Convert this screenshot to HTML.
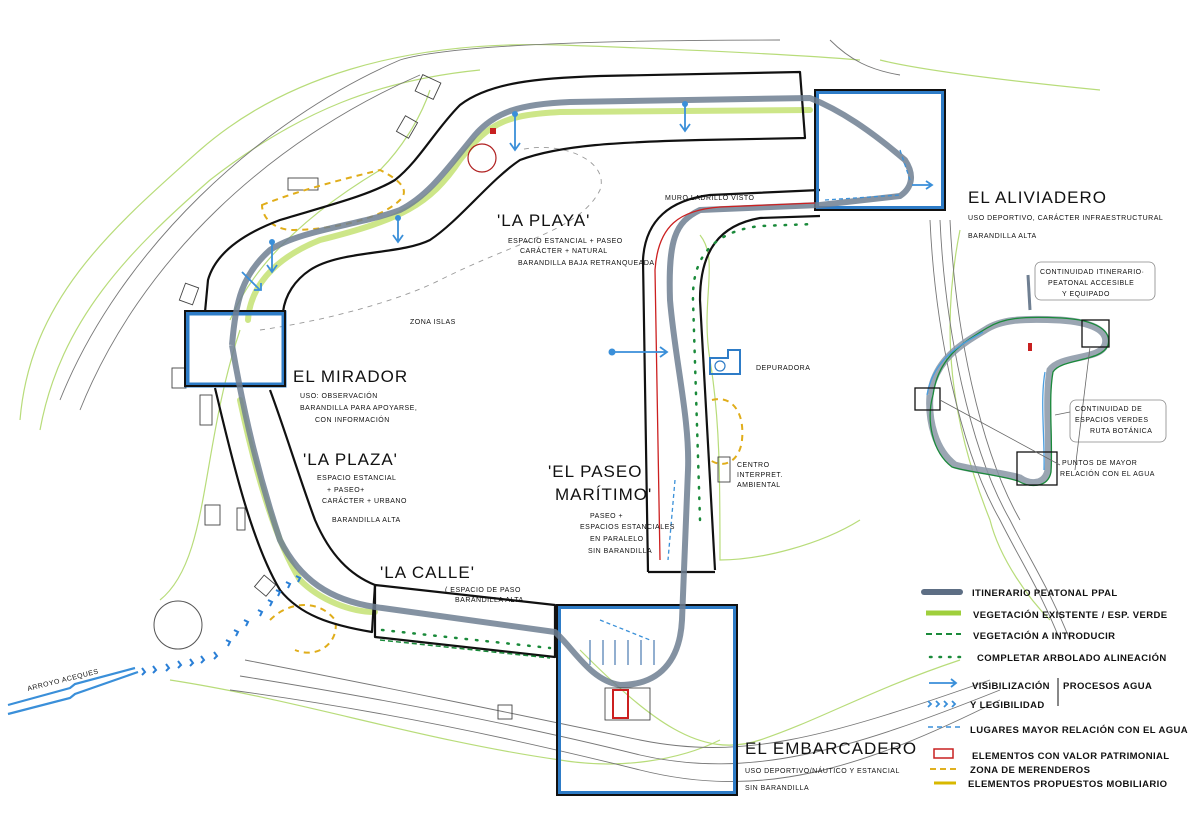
<!DOCTYPE html>
<html><head><meta charset="utf-8"><style>
html,body{margin:0;padding:0;background:#fff;}
svg{display:block;}
text{font-family:"Liberation Sans",sans-serif;fill:#111;}
.s{font-size:7px;letter-spacing:0.5px;}
.b{font-size:17px;letter-spacing:1px;}
.lg{font-size:9.5px;letter-spacing:0.4px;font-weight:bold;}
</style></head><body>
<svg width="1200" height="840" viewBox="0 0 1200 840" xmlns="http://www.w3.org/2000/svg">
<rect width="1200" height="840" fill="#fff"/>
<g fill="none" stroke="#b8dc7a" stroke-width="1.2">
<path d="M20,420 C30,300 110,230 200,150 C280,80 400,40 560,45 C700,50 800,55 860,60"/>
<path d="M40,430 C60,320 130,250 210,180 C300,110 380,80 480,70"/>
<path d="M230,320 C260,250 330,200 380,170 C400,150 420,120 430,90"/>
<path d="M700,235 C720,260 700,300 710,360 C720,420 720,480 720,560 C760,560 820,545 860,520"/>
<path d="M580,650 C650,720 700,760 760,740 C820,720 870,690 960,660"/>
<path d="M170,680 C300,700 420,740 560,760 C620,770 680,760 720,740"/>
<path d="M960,230 C940,330 950,420 990,520 C1000,560 1030,600 1050,620"/>
<path d="M240,330 C200,450 210,560 160,600"/>
<path d="M880,60 C920,70 1000,80 1100,90"/>
</g>
<g fill="none" stroke="#777" stroke-width="0.9">
<path d="M60,400 C120,250 260,120 400,60 C450,45 600,40 780,40"/>
<path d="M80,410 C140,260 270,140 420,75"/>
<path d="M230,690 C380,710 520,740 640,770 C760,800 860,770 1000,700"/>
<path d="M240,676 C390,700 520,725 640,755 C750,780 850,750 1000,690"/>
<path d="M245,660 C400,690 520,715 640,740 C740,760 820,740 990,680"/>
<path d="M930,220 C935,330 960,450 1000,520 C1020,560 1040,590 1060,640"/>
<path d="M940,220 C945,330 970,450 1010,520 C1030,560 1050,590 1070,640"/>
<path d="M950,220 C955,330 980,450 1020,520"/>
<path d="M830,40 C850,60 870,70 900,75"/>
</g>
<circle cx="178" cy="625" r="24" fill="none" stroke="#555" stroke-width="1"/>
<g fill="none" stroke="#444" stroke-width="0.9">
<rect x="418" y="78" width="20" height="18" transform="rotate(25 428 87)"/>
<rect x="400" y="118" width="14" height="18" transform="rotate(30 407 127)"/>
<rect x="288" y="178" width="30" height="12"/>
<rect x="182" y="285" width="14" height="18" transform="rotate(20 189 294)"/>
<rect x="172" y="368" width="14" height="20"/>
<rect x="200" y="395" width="12" height="30"/>
<rect x="205" y="505" width="15" height="20"/>
<rect x="237" y="508" width="8" height="22"/>
<rect x="258" y="578" width="15" height="15" transform="rotate(40 265 585)"/>
<rect x="498" y="705" width="14" height="14"/>
<rect x="718" y="457" width="12" height="25"/>
</g>
<path d="M260,330 C330,320 400,300 440,280 C520,240 580,230 600,190 C610,160 560,140 520,150" fill="none" stroke="#999" stroke-width="0.9" stroke-dasharray="5,5"/>
<g fill="none" stroke="#e0ad1a" stroke-width="2" stroke-dasharray="6,5">
<path d="M262,205 C300,190 340,180 380,170 C400,180 410,190 400,200 C380,220 330,230 290,230 C270,228 262,215 262,205 Z"/>
<path d="M712,400 C730,395 745,410 742,440 C740,460 725,470 710,460"/>
<path d="M270,620 C290,600 320,600 335,620 C340,640 320,660 295,650"/>
</g>
<g fill="none" stroke="#b8dc55" stroke-width="6" stroke-linecap="round" opacity="0.7">
<path d="M248,320 C250,290 270,260 320,240 C400,220 430,205 460,160 C490,120 510,115 560,112 L810,110"/>
<path d="M240,400 C255,470 275,540 300,580 C320,600 350,612 375,612"/>
</g>
<g fill="none" stroke="#111" stroke-width="2.2" stroke-linejoin="round">
<path d="M205,312 L208,280 C215,255 240,235 280,220 C330,205 370,195 395,180 C420,160 435,130 460,105 C490,82 540,78 600,76 L800,72 L805,138 L700,140 C620,142 560,145 520,160 C490,180 460,220 430,240 C400,255 340,250 310,270 C295,280 285,295 283,312"/>
<path d="M215,388 C230,450 250,540 280,590 C300,615 330,625 372,632 L375,585 C350,575 330,555 315,520 C300,480 285,430 270,390"/>
<path d="M375,585 L555,605 L555,657 L375,637 Z"/>
<path d="M648,572 L643,260 C645,220 670,200 710,195 L820,190"/>
<path d="M715,570 L700,300 C700,250 720,225 760,218 L820,216"/>
<path d="M648,572 L715,572"/>
</g>
<g fill="none">
<rect x="187" y="313" width="97" height="72" stroke="#2e7cc7" stroke-width="5"/>
<rect x="185" y="311" width="100" height="75" stroke="#111" stroke-width="2"/>
<rect x="817" y="92" width="126" height="116" stroke="#2e7cc7" stroke-width="4"/>
<rect x="815" y="90" width="130" height="120" stroke="#111" stroke-width="2"/>
<rect x="559" y="607" width="176" height="186" stroke="#2e7cc7" stroke-width="4"/>
<rect x="557" y="605" width="180" height="190" stroke="#111" stroke-width="2"/>
</g>
<path d="M232,345 C236,300 242,275 270,250 C300,230 360,225 400,210 C430,195 450,165 475,135 C495,112 520,104 570,102 L810,98 C840,110 870,130 905,160 C915,175 912,188 900,196 L820,205 L700,210 C675,222 668,240 670,300 C675,360 690,420 688,470 L682,620 C680,660 660,685 620,685 C590,680 575,650 555,632 L375,607 C330,600 300,580 280,540 C260,480 245,420 232,345" fill="none" stroke="#6f7f92" stroke-width="6" stroke-linejoin="round" opacity="0.85"/>
<path d="M660,560 L655,270 C658,225 680,210 720,207 L815,203" fill="none" stroke="#cc2020" stroke-width="1.3"/>
<g fill="none" stroke="#1a8a3a" stroke-width="2.5" stroke-dasharray="1.5,9" stroke-linecap="round">
<path d="M700,520 L693,300 C692,260 710,232 760,226 L815,224"/>
<path d="M382,630 L550,648"/>
</g>
<path d="M380,640 L550,658" stroke="#1a8a3a" stroke-width="1.5" stroke-dasharray="5,3" fill="none"/>
<path d="M825,200 L900,195 M900,150 L910,180" stroke="#3a90d8" stroke-width="1.3" stroke-dasharray="4,3" fill="none"/>
<path d="M675,480 L668,560 M600,620 L650,640" stroke="#3a90d8" stroke-width="1.3" stroke-dasharray="4,3" fill="none"/>
<rect x="605" y="688" width="45" height="32" fill="none" stroke="#333" stroke-width="0.8"/>
<rect x="613" y="690" width="15" height="28" fill="none" stroke="#cc2020" stroke-width="2"/>
<g stroke="#4a7ab0" stroke-width="1.2" fill="none">
<path d="M590,640 v25 M603,640 v25 M615,640 v25 M628,640 v25 M641,640 v25 M654,640 v25"/>
</g>
<circle cx="482" cy="158" r="14" fill="none" stroke="#b02020" stroke-width="1.2"/>
<rect x="490" y="128" width="6" height="6" fill="#c82020"/>
<rect x="1028" y="343" width="4" height="8" fill="#c82020"/>
<g stroke="#3a8fd9" stroke-width="1.8" fill="none">
<path d="M515,112 v38 M510,143 l5,7 5,-7"/>
<path d="M685,103 v28 M680,124 l5,7 5,-7"/>
<path d="M398,216 v26 M393,235 l5,7 5,-7"/>
<path d="M272,240 v32 M267,265 l5,7 5,-7"/>
<path d="M242,272 l18,18 M254,290 h7 v-7"/>
<path d="M612,352 h55 M660,347 l7,5 -7,5"/>
<path d="M912,185 h20 M926,181 l6,4 -6,4"/>
</g>
<g fill="#3a8fd9"><circle cx="515" cy="114" r="3"/><circle cx="685" cy="104" r="3"/><circle cx="398" cy="218" r="3"/><circle cx="272" cy="242" r="3"/><circle cx="612" cy="352" r="3.5"/></g>
<g stroke="#3a8fd9" stroke-width="2.2" fill="none">
<path d="M8,705 L70,688 L75,684 L135,668"/>
<path d="M8,714 L70,698 L75,694 L138,672"/>
</g>
<g fill="none" stroke="#2a7fd6" stroke-width="2">
<path d="M142,668 l3,4 -3,3 M153,666 l3,4 -3,3 M166,664 l3,4 -3,3 M178,661 l3,4 -3,3 M190,659 l3,4 -3,3 M201,656 l3,4 -3,3 M214,652 l3,4 -3,3 M226,640 l4,2 -2,4 M234,630 l4,2 -2,4 M244,620 l4,2 -2,4 M258,610 l4,2 -2,4 M268,600 l4,2 -2,4 M276,590 l4,2 -2,4 M286,582 l4,2 -2,4 M296,576 l4,2 -2,4"/>
</g>
<text x="28" y="691" class="s" transform="rotate(-14 28 691)">ARROYO ACEQUES</text>
<path d="M710,358 h18 v-8 h12 v24 h-30 Z" fill="none" stroke="#2e7cc7" stroke-width="2"/>
<circle cx="720" cy="366" r="5" fill="none" stroke="#2e7cc7" stroke-width="1.2"/>
<g fill="none">
<path d="M930,395 C935,360 960,345 985,330 C1000,320 1020,318 1060,320 C1090,322 1110,330 1105,345 C1100,360 1060,355 1050,370 C1045,400 1050,440 1048,470 C1045,485 1030,485 1020,478 C1000,472 970,470 955,465 C935,450 928,420 930,395" stroke="#8895a5" stroke-width="7" opacity="0.85"/>
<path d="M933,395 C938,358 962,343 987,328 C1003,318 1022,316 1062,318 C1095,320 1112,330 1108,345 C1102,362 1062,358 1053,372 C1048,400 1053,440 1051,472 C1048,488 1030,488 1018,481 C1000,475 968,472 952,467 C932,452 926,420 933,395" stroke="#1a8a3a" stroke-width="1.3"/>
<path d="M927,395 C933,360 958,346 983,332 M1045,372 C1040,400 1045,440 1044,470" stroke="#4a9ee0" stroke-width="1.3"/>
<rect x="1082" y="320" width="27" height="27" stroke="#111" stroke-width="1.3"/>
<rect x="915" y="388" width="25" height="22" stroke="#111" stroke-width="1.3"/>
<rect x="1017" y="452" width="40" height="33" stroke="#111" stroke-width="1.3"/>
<path d="M1028,275 L1030,310" stroke="#6f7f92" stroke-width="3"/>
<rect x="1035" y="262" width="120" height="38" rx="6" stroke="#888" stroke-width="0.8"/>
<rect x="1070" y="400" width="96" height="42" rx="6" stroke="#888" stroke-width="0.8"/>
<path d="M1055,415 L1070,412 M940,400 L1060,465 M1090,347 L1075,470" stroke="#666" stroke-width="0.8"/>
</g>
<text x="1040" y="274" class="s">CONTINUIDAD ITINERARIO·</text>
<text x="1048" y="285" class="s">PEATONAL ACCESIBLE</text>
<text x="1062" y="296" class="s">Y EQUIPADO</text>
<text x="1075" y="411" class="s">CONTINUIDAD DE</text>
<text x="1075" y="422" class="s">ESPACIOS VERDES</text>
<text x="1090" y="433" class="s">RUTA BOTÁNICA</text>
<text x="1062" y="465" class="s">PUNTOS DE MAYOR</text>
<text x="1060" y="476" class="s">RELACIÓN CON EL AGUA</text>
<text x="968" y="203" class="b">EL ALIVIADERO</text>
<text x="968" y="220" class="s">USO DEPORTIVO, CARÁCTER INFRAESTRUCTURAL</text>
<text x="968" y="238" class="s">BARANDILLA ALTA</text>
<text x="293" y="382" class="b">EL MIRADOR</text>
<text x="300" y="398" class="s">USO: OBSERVACIÓN</text>
<text x="300" y="410" class="s">BARANDILLA PARA APOYARSE,</text>
<text x="315" y="422" class="s">CON INFORMACIÓN</text>
<text x="497" y="226" class="b">'LA PLAYA'</text>
<text x="508" y="243" class="s">ESPACIO ESTANCIAL + PASEO</text>
<text x="520" y="253" class="s">CARÁCTER + NATURAL</text>
<text x="518" y="265" class="s">BARANDILLA BAJA RETRANQUEADA</text>
<text x="410" y="324" class="s" fill="#888">ZONA ISLAS</text>
<text x="303" y="465" class="b">'LA PLAZA'</text>
<text x="317" y="480" class="s">ESPACIO ESTANCIAL</text>
<text x="327" y="492" class="s">+ PASEO+</text>
<text x="322" y="503" class="s">CARÁCTER + URBANO</text>
<text x="332" y="522" class="s">BARANDILLA ALTA</text>
<text x="380" y="578" class="b">'LA CALLE'</text>
<text x="445" y="592" class="s">( ESPACIO DE PASO</text>
<text x="455" y="602" class="s">BARANDILLA ALTA</text>
<text x="548" y="477" class="b">'EL PASEO</text>
<text x="555" y="500" class="b">MARÍTIMO'</text>
<text x="590" y="518" class="s">PASEO +</text>
<text x="580" y="529" class="s">ESPACIOS ESTANCIALES</text>
<text x="590" y="541" class="s">EN PARALELO</text>
<text x="588" y="553" class="s">SIN BARANDILLA</text>
<text x="665" y="200" class="s">MURO LADRILLO VISTO</text>
<text x="756" y="370" class="s">DEPURADORA</text>
<text x="737" y="467" class="s">CENTRO</text>
<text x="737" y="477" class="s">INTERPRET.</text>
<text x="737" y="487" class="s">AMBIENTAL</text>
<text x="745" y="754" class="b">EL EMBARCADERO</text>
<text x="745" y="773" class="s">USO DEPORTIVO/NÁUTICO Y ESTANCIAL</text>
<text x="745" y="790" class="s">SIN BARANDILLA</text>
<g fill="none">
<path d="M924,592 h36" stroke="#5d6e84" stroke-width="6" stroke-linecap="round"/>
<path d="M926,613 h35" stroke="#9fcf3c" stroke-width="5"/>
<path d="M926,634 h35" stroke="#1a8a3a" stroke-width="2" stroke-dasharray="6,4"/>
<path d="M930,657 h35" stroke="#1a8a3a" stroke-width="2.5" stroke-dasharray="1.5,8" stroke-linecap="round"/>
<path d="M929,683 h26 M951,679 l5,4 -5,4" stroke="#3a8fd9" stroke-width="1.8"/>
<path d="M928,701 l3,3 -3,3 M936,701 l3,3 -3,3 M944,701 l3,3 -3,3 M952,701 l3,3 -3,3" stroke="#3a8fd9" stroke-width="1.8"/>
<path d="M928,727 h33" stroke="#3a8fd9" stroke-width="1.5" stroke-dasharray="5,4"/>
<rect x="934" y="749" width="19" height="9" stroke="#c82020" stroke-width="1.5"/>
<path d="M930,769 h30" stroke="#e0b020" stroke-width="2" stroke-dasharray="6,4"/>
<path d="M934,783 h22" stroke="#d8b800" stroke-width="3"/>
<path d="M1058,678 v28" stroke="#111" stroke-width="1"/>
</g>
<text x="972" y="596" class="lg">ITINERARIO PEATONAL PPAL</text>
<text x="973" y="618" class="lg">VEGETACIÓN EXISTENTE / ESP. VERDE</text>
<text x="973" y="639" class="lg">VEGETACIÓN A INTRODUCIR</text>
<text x="977" y="661" class="lg">COMPLETAR ARBOLADO ALINEACIÓN</text>
<text x="972" y="689" class="lg">VISIBILIZACIÓN</text>
<text x="1063" y="689" class="lg">PROCESOS AGUA</text>
<text x="970" y="708" class="lg">Y LEGIBILIDAD</text>
<text x="970" y="733" class="lg">LUGARES MAYOR RELACIÓN CON EL AGUA</text>
<text x="972" y="759" class="lg">ELEMENTOS CON VALOR PATRIMONIAL</text>
<text x="970" y="773" class="lg">ZONA DE MERENDEROS</text>
<text x="968" y="787" class="lg">ELEMENTOS PROPUESTOS MOBILIARIO</text>
</svg>
</body></html>
